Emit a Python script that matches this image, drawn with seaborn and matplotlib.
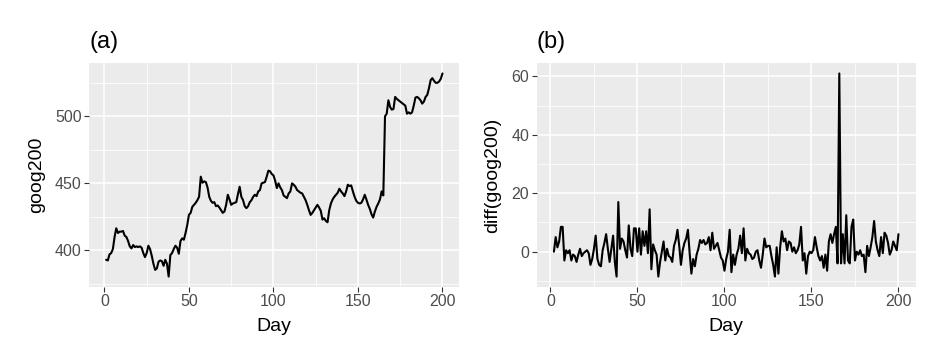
import matplotlib
matplotlib.use("Agg")
import matplotlib.pyplot as plt
from matplotlib.ticker import MultipleLocator
import numpy as np
import pandas as pd
import seaborn as sns

# ---- data ----
day_a = list(range(1, 201))
goog200 = [
    393, 392.5, 397, 398, 401, 410, 416.5, 413, 414, 414,
    414.5, 411, 410, 407, 403, 401.5, 404, 402.5, 403, 402.5,
    403, 402, 398, 395, 398, 403.5, 401, 396, 390, 385.5,
    386.5, 391.5, 392.5, 392, 388.5, 393, 390, 380.5, 396.5, 398,
    401, 403.5, 402, 397.5, 407, 409, 408, 413, 419, 426.5,
    428, 432.5, 434, 435.5, 437.5, 440, 455, 450.5, 451.5, 451,
    447, 440, 437, 435.5, 436, 433, 433.5, 432, 430, 428,
    429, 434, 441.5, 438, 434, 435, 435.5, 436, 442, 447.5,
    440, 437.5, 433, 431.5, 433, 436, 437.5, 440, 441.5, 440.5,
    444, 445, 450, 450.5, 451, 455, 459.5, 459, 457, 456,
    452, 446.5, 450, 447, 445, 441, 440, 439, 442.5, 444,
    450, 449, 447.5, 445, 444, 443, 442.5, 440, 437.5, 434,
    430, 426.5, 428, 430, 432, 434, 432, 429.5, 423, 424,
    422, 421, 430, 435, 438, 440, 441.5, 443, 446, 444,
    442.5, 440.5, 444, 449, 448, 448.5, 444, 440, 437, 435.5,
    435, 435.5, 438, 441.5, 438, 434, 431, 427, 424.5, 429,
    432.5, 435, 438, 444, 441, 500, 502, 512, 507, 505,
    505.5, 514.5, 513, 512, 511, 510, 509, 508, 502, 503,
    502, 503, 508, 514, 514.5, 513.5, 512, 509.5, 511, 514.5,
    516, 521, 527, 528.5, 526.5, 525, 525, 526, 528, 532,
]

day_b = list(range(2, 201))
diff_goog200 = [
    0, 5, 1.5, 3.5, 8.5, 8.5, -3, 0.5, -0.5,                 # 2-10
    0.5, -3, -1, -1.5, -3.5, -1, 1, -1.5, -0.5, 0,           # 11-20
    0.5, -0.5, -4.5, -2.5, 1, 5.5, -2.5, -4.5, -5, 0.5,      # 21-30
    3, 6, 1, -3.5, 1, 5.5, -3.5, -8.5, 17, 1,                # 31-40
    4.5, 3.5, 0.5, -2, 9, 1, -1.5, 8, 8, 0,                  # 41-50
    8, -1, 7, 2, 7, -0.5, 14.5, -6, 2.5, 0.5,                # 51-60
    -1, -8.5, -3.5, 0, 3.5, -3, 1, -1.5, -2, -3.5,           # 61-70
    2, 4, 7.5, 2, -4.5, 0.5, 3, 4.5, 7.5, -0.5,              # 71-80
    -7.5, -2.5, -5, -1, 1, 4, 3, 4, 2.5, 3,                  # 81-90
    5, 0.5, 6.5, 1, 2, 3, 0.5, -2, -3, -6.5,                 # 91-100
    -2.5, 0, 7.5, -7, -1, -4.5, -1, 1, 5.5, -0.5,            # 101-110
    8, -3, 1, -0.5, -1, -2.5, -2, 0, 0.5, -3,                # 111-120
    -5.5, -1, 4.5, 1.5, 2, 2, -1.5, -4.5, -8.5, 1.5,         # 121-130
    -7.5, 1.5, 7, 3.5, 4.5, 0.5, 3.5, 3, 0, 1.5,             # 131-140
    -0.5, 0.5, 2.5, 8.5, -3, -0.5, -7.5, -1.5, 0, -0.5,      # 141-150
    0.5, 5, 1.5, -1.5, -3, -1.5, -5.5, -1, -6.5, 3.5,        # 151-160
    6, 3, 6, 8.5, -4, 61, -4, 6, -4, 12.5,                   # 161-170
    -3, -4, 8.5, 11, -3, 0, -1, 0.5, -1.5, -1,               # 171-180
    -7, 2, -1.5, 1.5, 5, 10.5, 3.5, 0.5, -1.5, 5,            # 181-190
    -0.5, 6.5, 5.5, 3, -1, 0.5, 3.5, 2, 0.5, 6,              # 191-200
]

x_major = [0, 50, 100, 150, 200]
titles = ["(a)", "(b)"]
ylabels = ["goog200", "diff(goog200)"]
xlabel = "Day"

# ---- style ----
sns.set_theme(style="darkgrid", rc={
    "axes.facecolor": "#EBEBEB",
    "grid.color": "white",
    "axes.edgecolor": "#EBEBEB",
    "axes.linewidth": 0,
    "xtick.color": "#333333",
    "ytick.color": "#333333",
    "xtick.labelcolor": "#4D4D4D",
    "ytick.labelcolor": "#4D4D4D",
})
plt.rcParams["font.family"] = ["Liberation Sans", "DejaVu Sans"]

fig = plt.figure(figsize=(9.36, 3.54), dpi=100)
fig.patch.set_facecolor("white")

H = 354.0
W = 936.0
pos = [
    (89.3 / W, 1 - 286.7 / H, (459.3 - 89.3) / W, (286.7 - 63.3) / H),
    (536.7 / W, 1 - 286.7 / H, (915.7 - 536.7) / W, (286.7 - 63.3) / H),
]

df_a = pd.DataFrame({"Day": day_a, "value": goog200})
df_b = pd.DataFrame({"Day": day_b, "value": diff_goog200})
frames = [df_a, df_b]
y_major = [[400, 450, 500], [0, 20, 40, 60]]
y_minor = [25, 10]

for i, (df, p) in enumerate(zip(frames, pos)):
    ax = fig.add_axes(p)
    sns.lineplot(data=df, x="Day", y="value", ax=ax, color="black",
                 linewidth=1.5, estimator=None)
    ax.set_xticks(x_major)
    ax.xaxis.set_minor_locator(MultipleLocator(25))
    ax.set_yticks(y_major[i])
    ax.yaxis.set_minor_locator(MultipleLocator(y_minor[i]))
    ax.grid(which="major", color="white", linewidth=1.1)
    ax.grid(which="minor", color="white", linewidth=0.55)
    ax.tick_params(which="major", length=3.5, width=0.8, pad=2,
                   labelsize=11.5, bottom=True, left=True)
    ax.tick_params(which="minor", length=0)
    ax.margins(x=0.05, y=0.05)
    for s in ax.spines.values():
        s.set_visible(False)
    ax.set_xlabel(xlabel, fontsize=14, color="black", labelpad=6)
    ax.set_ylabel(ylabels[i], fontsize=14, color="black", labelpad=7)
    ax.set_title(titles[i], loc="left", fontsize=17, color="black", pad=11)

fig.savefig("out.png", dpi=100, facecolor="white")
